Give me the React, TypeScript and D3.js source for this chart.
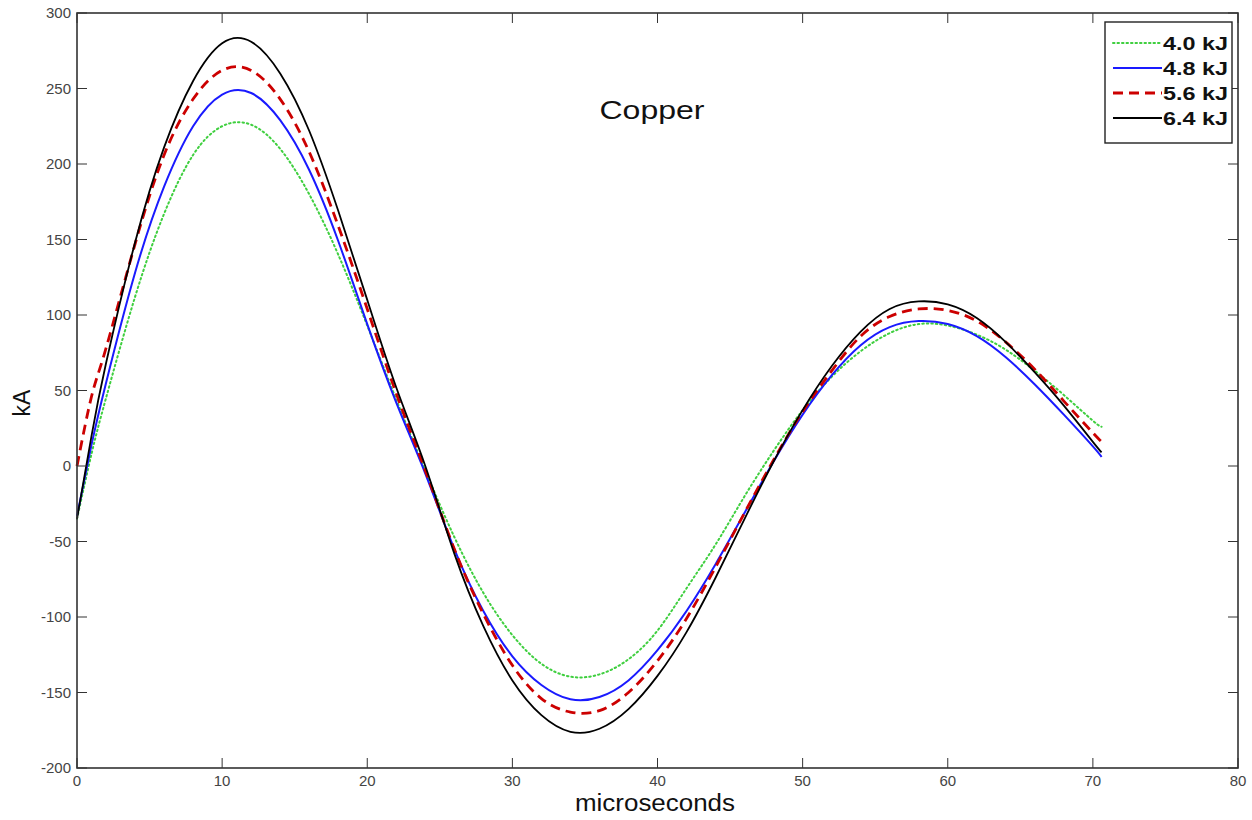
import React from "react";
import * as d3 from "d3";

const times = [0, 1, 2, 4, 6, 8, 10, 12, 14, 16, 18, 20, 22, 24, 26, 28, 30, 32, 34, 36, 38, 40, 42, 44, 46, 48, 50, 52, 54, 56, 58, 60, 62, 64, 66, 68, 70, 70.6];

const kj40 = [-35, 8, 45, 112, 167, 206, 225, 226, 210, 180, 140, 93, 44, -3, -47, -84, -112, -131, -139.5, -138, -128, -109, -81, -52, -20, 10, 37, 59, 76, 88, 94, 93, 87, 77, 63, 47, 30, 26];
const kj48 = [-33, 14, 55, 128, 185, 225, 246, 247, 229, 196, 149, 94, 42, -5, -55, -96, -126, -145, -154.5, -153, -142, -122, -96, -65, -31, 3, 34, 60, 80, 92, 96, 94, 86, 72, 54, 34, 13, 6];
const kj56 = [0, 46, 78, 147, 206, 243, 262, 262, 243, 208, 159, 104, 48, -3, -55, -98, -132, -154, -163, -162, -150, -129, -101, -67, -31, 4, 36, 63, 86, 99, 104, 103, 96, 82, 64, 43, 22, 16];
const kj64 = [-35, 20, 68, 148, 211, 255, 280, 281, 260, 222, 169, 110, 52, 0, -58, -106, -142, -165, -176, -174, -161, -139, -110, -74, -35, 3, 37, 66, 89, 104, 109, 107, 98, 82, 62, 40, 16, 9];

const seriesNames = ["4.0 kJ", "4.8 kJ", "5.6 kJ", "6.4 kJ"];
const seriesValues = [kj40, kj48, kj56, kj64];
const seriesColors = ["#3fcf3f", "#1a1aff", "#cc0000", "#000000"];
const seriesDash = ["1.5,3", "none", "10,6", "none"];
const seriesWidth = [2, 2, 2.8, 1.8];

const xTicks = [0, 10, 20, 30, 40, 50, 60, 70, 80];
const yTicks = [-200, -150, -100, -50, 0, 50, 100, 150, 200, 250, 300];

const L = 77, R = 1238, T = 13, B = 768;

export default function App() {
  const x = d3.scaleLinear().domain([0, 80]).range([L, R]);
  const y = d3.scaleLinear().domain([-200, 300]).range([B, T]);
  const line = d3
    .line<number>()
    .x((_, i) => x(times[i]))
    .y((v) => y(v))
    .curve(d3.curveNatural);
  const tickLen = 10;
  const axisColor = "#333";
  const font = "'Liberation Sans', Arial, sans-serif";

  return (
    <svg
      width={1252}
      height={820}
      style={{ position: "absolute", left: 0, top: 0, background: "#fff" }}
    >
      <rect x={0} y={0} width={1252} height={820} fill="#fff" />
      <g>
        {seriesValues.map((vals, k) => (
          <path
            key={k}
            d={line(vals) || ""}
            fill="none"
            stroke={seriesColors[k]}
            strokeWidth={seriesWidth[k]}
            strokeDasharray={seriesDash[k]}
            strokeLinecap={k === 0 ? "round" : "butt"}
          />
        ))}
      </g>
      <rect x={L} y={T} width={R - L} height={B - T} fill="none" stroke={axisColor} strokeWidth={1.6} />
      {xTicks.map((t) => (
        <g key={"x" + t}>
          <line x1={x(t)} x2={x(t)} y1={B} y2={B - tickLen} stroke={axisColor} strokeWidth={1} />
          <line x1={x(t)} x2={x(t)} y1={T} y2={T + tickLen} stroke={axisColor} strokeWidth={1} />
          <text x={x(t)} y={B + 18} textAnchor="middle" fontFamily={font} fontSize={15} fill="#444">
            {t}
          </text>
        </g>
      ))}
      {yTicks.map((t) => (
        <g key={"y" + t}>
          <line x1={L} x2={L + tickLen} y1={y(t)} y2={y(t)} stroke={axisColor} strokeWidth={1} />
          <line x1={R} x2={R - tickLen} y1={y(t)} y2={y(t)} stroke={axisColor} strokeWidth={1} />
          <text x={L - 6} y={y(t) + 5} textAnchor="end" fontFamily={font} fontSize={15} fill="#444">
            {t}
          </text>
        </g>
      ))}
      <text x={655} y={811} textAnchor="middle" fontFamily={font} fontSize={23} fill="#111" textLength={160} lengthAdjust="spacingAndGlyphs">
        microseconds
      </text>
      <text
        transform="translate(30,403) rotate(-90)"
        textAnchor="middle"
        fontFamily={font}
        fontSize={23}
        fill="#111"
      >
        kA
      </text>
      <text x={652} y={119} textAnchor="middle" fontFamily={font} fontSize={26} fill="#111" textLength={105} lengthAdjust="spacingAndGlyphs">
        Copper
      </text>
      <g>
        <rect x={1105} y={22} width={127} height={121} fill="#fff" stroke="#222" strokeWidth={1.4} />
        {seriesNames.map((name, k) => {
          const cy = 43 + k * 25;
          return (
            <g key={name}>
              <line
                x1={1113}
                x2={1162}
                y1={cy}
                y2={cy}
                stroke={seriesColors[k]}
                strokeWidth={seriesWidth[k]}
                strokeDasharray={seriesDash[k]}
                strokeLinecap={k === 0 ? "round" : "butt"}
              />
              <text x={1163} y={cy + 6.5} fontFamily={font} fontSize={18} fontWeight="bold" fill="#111" textLength={65} lengthAdjust="spacingAndGlyphs">
                {name}
              </text>
            </g>
          );
        })}
      </g>
    </svg>
  );
}
